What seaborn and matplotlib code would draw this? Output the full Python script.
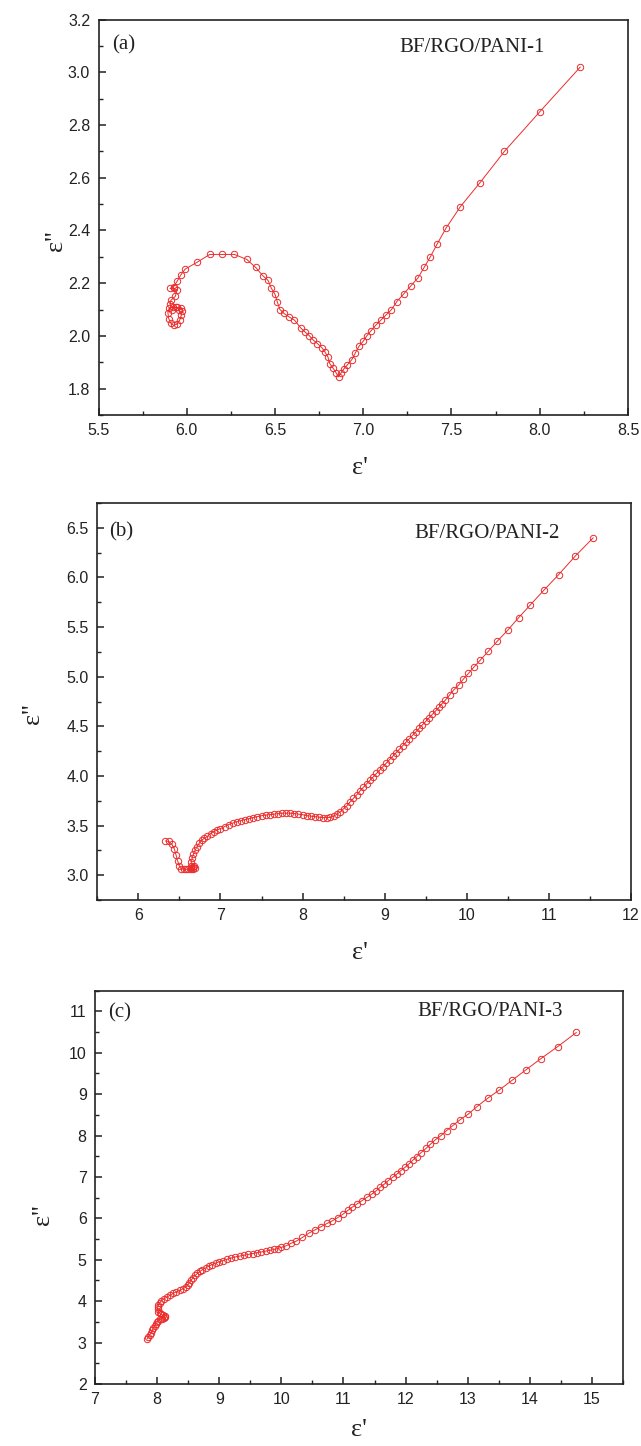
import matplotlib
matplotlib.use("Agg")
import matplotlib.pyplot as plt
from matplotlib.ticker import MultipleLocator, FormatStrFormatter
import seaborn as sns
import pandas as pd

# ---------------- data ----------------
# panel (a) BF/RGO/PANI-1
a_eps1 = [5.955, 5.94, 5.915, 5.90, 5.893, 5.898, 5.91, 5.925, 5.945, 5.96, 5.97, 5.975, 5.965, 5.945,
          5.92, 5.905, 5.91, 5.935, 5.945, 5.93, 5.905, 5.925, 5.947, 5.965, 5.99, 6.06, 6.13, 6.20,
          6.27, 6.34, 6.39, 6.43, 6.46, 6.48, 6.50, 6.513, 6.528, 6.551, 6.58, 6.61, 6.646, 6.67,
          6.694, 6.717, 6.74, 6.765, 6.783, 6.80, 6.81, 6.827, 6.846, 6.86, 6.875, 6.89, 6.91, 6.935,
          6.955, 6.975, 7.00, 7.02, 7.045, 7.07, 7.10, 7.13, 7.16, 7.19, 7.23, 7.27, 7.31, 7.345,
          7.38, 7.42, 7.47, 7.55, 7.66, 7.80, 8.00, 8.23]
a_eps2 = [2.10, 2.11, 2.10, 2.105, 2.088, 2.065, 2.048, 2.04, 2.045, 2.06, 2.08, 2.095, 2.104, 2.108,
          2.11, 2.12, 2.135, 2.15, 2.173, 2.18, 2.18, 2.186, 2.209, 2.23, 2.253, 2.28, 2.309, 2.309,
          2.309, 2.29, 2.26, 2.229, 2.211, 2.18, 2.158, 2.129, 2.10, 2.085, 2.072, 2.06, 2.03, 2.015,
          2.001, 1.984, 1.971, 1.956, 1.939, 1.92, 1.895, 1.88, 1.86, 1.845, 1.86, 1.875, 1.89, 1.91,
          1.935, 1.96, 1.98, 2.0, 2.02, 2.04, 2.06, 2.08, 2.10, 2.13, 2.16, 2.19, 2.22, 2.26,
          2.30, 2.35, 2.41, 2.49, 2.58, 2.70, 2.85, 3.02]

# panel (b) BF/RGO/PANI-2
b_eps1 = [6.33, 6.37, 6.41, 6.44, 6.46, 6.48, 6.50, 6.52, 6.55, 6.58, 6.61, 6.64, 6.67, 6.69, 6.68,
          6.66, 6.645, 6.64, 6.645, 6.655, 6.67, 6.69, 6.71, 6.74, 6.77, 6.80, 6.84, 6.88, 6.92, 6.96,
          7.00, 7.05, 7.10, 7.15, 7.20, 7.25, 7.30, 7.35, 7.40, 7.45, 7.50, 7.55, 7.60, 7.65, 7.70,
          7.75, 7.80, 7.85, 7.90, 7.95, 8.00, 8.05, 8.10, 8.15, 8.20, 8.25, 8.30, 8.34, 8.38, 8.42,
          8.46, 8.50, 8.54, 8.58, 8.62, 8.66, 8.70, 8.74, 8.78, 8.82, 8.86, 8.90, 8.94, 8.98, 9.02,
          9.06, 9.10, 9.14, 9.18, 9.22, 9.26, 9.30, 9.34, 9.38, 9.42, 9.46, 9.50, 9.54, 9.58, 9.62,
          9.66, 9.70, 9.74, 9.79, 9.84, 9.90, 9.955, 10.02, 10.09, 10.165, 10.264, 10.374, 10.50,
          10.63, 10.77, 10.94, 11.12, 11.32, 11.54]
b_eps2 = [3.345, 3.34, 3.31, 3.26, 3.20, 3.14, 3.09, 3.065, 3.06, 3.06, 3.06, 3.06, 3.065, 3.075, 3.09,
          3.08, 3.07, 3.09, 3.13, 3.17, 3.21, 3.25, 3.28, 3.32, 3.35, 3.37, 3.39, 3.42, 3.44, 3.455,
          3.47, 3.49, 3.51, 3.525, 3.54, 3.55, 3.56, 3.57, 3.58, 3.59, 3.60, 3.605, 3.61, 3.615, 3.62,
          3.625, 3.625, 3.625, 3.62, 3.615, 3.61, 3.60, 3.595, 3.59, 3.585, 3.58, 3.58, 3.583, 3.595,
          3.615, 3.64, 3.67, 3.70, 3.74, 3.775, 3.81, 3.85, 3.885, 3.92, 3.955, 3.99, 4.025, 4.06,
          4.095, 4.13, 4.165, 4.20, 4.235, 4.27, 4.305, 4.34, 4.375, 4.41, 4.445, 4.48, 4.515, 4.55,
          4.585, 4.62, 4.655, 4.69, 4.73, 4.765, 4.815, 4.866, 4.916, 4.973, 5.033, 5.10, 5.168,
          5.258, 5.36, 5.47, 5.594, 5.72, 5.873, 6.03, 6.215, 6.40]

# panel (c) BF/RGO/PANI-3
c_eps1 = [7.84, 7.86, 7.88, 7.90, 7.92, 7.94, 7.96, 7.98, 8.00, 8.02, 8.05, 8.08, 8.11, 8.13, 8.12,
          8.09, 8.06, 8.04, 8.02, 8.01, 8.01, 8.02, 8.04, 8.07, 8.11, 8.16, 8.21, 8.26, 8.31, 8.37,
          8.42, 8.46, 8.49, 8.52, 8.55, 8.58, 8.61, 8.65, 8.69, 8.73, 8.78, 8.83, 8.88, 8.94, 9.00,
          9.06, 9.12, 9.19, 9.26, 9.33, 9.40, 9.47, 9.54, 9.61, 9.68, 9.75, 9.82, 9.88, 9.94, 10.00,
          10.08, 10.16, 10.24, 10.34, 10.44, 10.54, 10.64, 10.74, 10.82, 10.91, 10.99, 11.07, 11.14,
          11.22, 11.30, 11.38, 11.46, 11.53, 11.59, 11.66, 11.72, 11.79, 11.86, 11.92, 11.99, 12.05,
          12.12, 12.18, 12.25, 12.33, 12.40, 12.48, 12.57, 12.66, 12.76, 12.875, 13.01, 13.15, 13.32,
          13.50, 13.71, 13.94, 14.18, 14.45, 14.75]
c_eps2 = [3.09, 3.14, 3.19, 3.24, 3.30, 3.35, 3.40, 3.45, 3.49, 3.53, 3.56, 3.58, 3.60, 3.62, 3.64,
          3.66, 3.68, 3.71, 3.75, 3.80, 3.86, 3.91, 3.96, 4.01, 4.06, 4.10, 4.145, 4.19, 4.225, 4.265,
          4.30, 4.34, 4.39, 4.45, 4.51, 4.57, 4.62, 4.67, 4.72, 4.76, 4.80, 4.845, 4.88, 4.92, 4.95,
          4.98, 5.01, 5.04, 5.07, 5.09, 5.11, 5.13, 5.15, 5.17, 5.19, 5.21, 5.23, 5.25, 5.27, 5.30,
          5.34, 5.40, 5.45, 5.54, 5.64, 5.72, 5.80, 5.88, 5.94, 6.02, 6.10, 6.19, 6.27, 6.35, 6.43,
          6.51, 6.59, 6.67, 6.75, 6.83, 6.91, 6.99, 7.07, 7.15, 7.23, 7.31, 7.41, 7.49, 7.59, 7.69,
          7.79, 7.90, 8.00, 8.12, 8.24, 8.38, 8.52, 8.70, 8.90, 9.09, 9.33, 9.59, 9.86, 10.15, 10.49]

panel_tags = ["(a)", "(b)", "(c)"]
sample_names = ["BF/RGO/PANI-1", "BF/RGO/PANI-2", "BF/RGO/PANI-3"]
x_label = "\u03b5'"
y_label = "\u03b5''"

# ---------------- style ----------------
sns.set_style("ticks")
plt.rcParams["font.family"] = ["Liberation Sans", "DejaVu Sans"]

RED = "#ec2b2b"
INK = "#222222"

fig = plt.figure(figsize=(6.41, 14.46), dpi=100)

panels = [
    dict(x=a_eps1, y=a_eps2, rect=[0.1537, 0.7130, 0.8260, 0.2735],
         xlim=(5.5, 8.5), ylim=(1.7, 3.2), xmaj=0.5, xmin=0.25, ymaj=0.2, ymin=0.1,
         xfmt="%.1f", yfmt="%.1f",
         ylab=(-0.080, 0.44), xlab=(0.494, -0.134),
         tag=(0.025, 0.935), name=(0.5675, 0.930)),
    dict(x=b_eps1, y=b_eps2, rect=[0.1518, 0.3776, 0.8326, 0.2745],
         xlim=(5.5, 12), ylim=(2.75, 6.75), xmaj=1, xmin=0.5, ymaj=0.5, ymin=0.25,
         xfmt="%d", yfmt="%.1f",
         ylab=(-0.12, 0.47), xlab=(0.492, -0.134),
         tag=(0.023, 0.927), name=(0.595, 0.924)),
    dict(x=c_eps1, y=c_eps2, rect=[0.1482, 0.0429, 0.8237, 0.2720],
         xlim=(7, 15.5), ylim=(2, 11.5), xmaj=1, xmin=0.5, ymaj=1, ymin=0.5,
         xfmt="%d", yfmt="%d",
         ylab=(-0.098, 0.43), xlab=(0.50, -0.117),
         tag=(0.025, 0.943), name=(0.61, 0.946)),
]

for p, tag, name in zip(panels, panel_tags, sample_names):
    ax = fig.add_axes(p["rect"])
    df = pd.DataFrame({"eps1": p["x"], "eps2": p["y"]})
    sns.lineplot(data=df, x="eps1", y="eps2", ax=ax, sort=False, estimator=None,
                 color=RED, linewidth=0.7, marker="o", markersize=4.6,
                 markerfacecolor="none", markeredgecolor=RED, markeredgewidth=0.7)
    ax.set_xlim(*p["xlim"])
    ax.set_ylim(*p["ylim"])
    ax.xaxis.set_major_locator(MultipleLocator(p["xmaj"]))
    ax.xaxis.set_minor_locator(MultipleLocator(p["xmin"]))
    ax.yaxis.set_major_locator(MultipleLocator(p["ymaj"]))
    ax.yaxis.set_minor_locator(MultipleLocator(p["ymin"]))
    ax.xaxis.set_major_formatter(FormatStrFormatter(p["xfmt"]))
    ax.yaxis.set_major_formatter(FormatStrFormatter(p["yfmt"]))
    ax.tick_params(which="both", direction="in", top=False, right=False,
                   color=INK, labelcolor=INK, labelsize=11.5)
    ax.tick_params(which="major", length=5, width=1.1, pad=6)
    ax.tick_params(which="minor", length=2.6, width=1.0)
    for sp in ax.spines.values():
        sp.set_visible(True)
        sp.set_linewidth(1.2)
        sp.set_color(INK)

    ax.set_xlabel(x_label, fontfamily="Liberation Serif", fontsize=19, color=INK)
    ax.set_ylabel(y_label, fontfamily="Liberation Serif", fontsize=19, color=INK)
    ax.xaxis.set_label_coords(*p["xlab"])
    ax.yaxis.set_label_coords(*p["ylab"])
    ax.xaxis.label.set_va("center")
    ax.yaxis.label.set_va("center")

    ax.text(p["tag"][0], p["tag"][1], tag, transform=ax.transAxes, ha="left", va="center",
            fontfamily="Liberation Serif", fontsize=15, color=INK)
    ax.text(p["name"][0], p["name"][1], name, transform=ax.transAxes, ha="left", va="center",
            fontfamily="Liberation Serif", fontsize=15, color=INK)

fig.savefig("out.png", dpi=100, facecolor="white")
